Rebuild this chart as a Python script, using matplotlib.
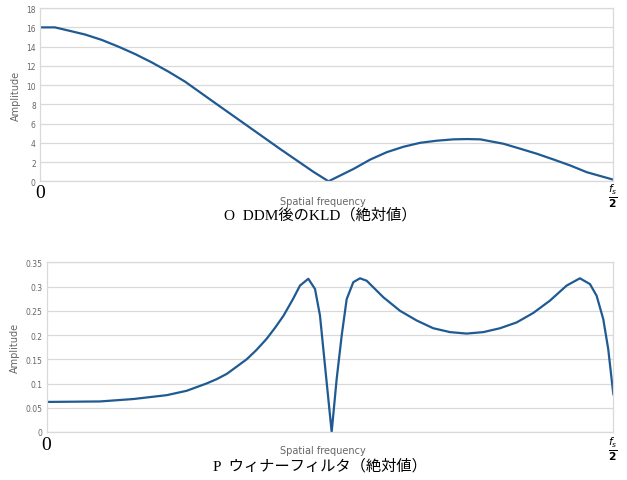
import numpy as np
import matplotlib.pyplot as plt

plt.rcParams['font.family'] = ['DejaVu Sans', 'Noto Sans CJK JP']

# top: KLD after DDM (abs value)
kld_x = [0.0, 0.026, 0.049, 0.0785, 0.1076, 0.1367, 0.1658, 0.1949, 0.224, 0.253,
         0.3025, 0.3607, 0.4188, 0.477, 0.5032, 0.547, 0.576, 0.605, 0.634, 0.663,
         0.692, 0.721, 0.745, 0.768, 0.8086, 0.838, 0.8668, 0.896, 0.925, 0.954, 1.0]
kld_y = [16.0, 16.0, 15.68, 15.26, 14.7, 14.0, 13.23, 12.36, 11.4, 10.36,
         8.26, 5.81, 3.36, 0.98, 0.0, 1.29, 2.26, 3.03, 3.59, 4.0,
         4.22, 4.36, 4.39, 4.36, 3.9, 3.38, 2.86, 2.26, 1.64, 0.94, 0.17]

# bottom: Wiener filter (abs value)
wf_x = [0.0, 0.094, 0.153, 0.212, 0.247, 0.282, 0.300, 0.318, 0.353, 0.370, 0.388,
        0.403, 0.418, 0.435, 0.447, 0.4617, 0.4735, 0.4823, 0.4911, 0.5029, 0.5117,
        0.5206, 0.5294, 0.5411, 0.5529, 0.5647, 0.594, 0.6235, 0.6529, 0.6822,
        0.7117, 0.7411, 0.7705, 0.8, 0.8294, 0.8587, 0.8882, 0.9176, 0.941, 0.9588,
        0.9705, 0.9822, 0.991, 1.0]
wf_y = [0.062, 0.063, 0.068, 0.076, 0.085, 0.100, 0.109, 0.120, 0.150, 0.169, 0.192,
        0.215, 0.240, 0.275, 0.302, 0.316, 0.295, 0.240, 0.137, 0.0, 0.109,
        0.199, 0.274, 0.309, 0.317, 0.312, 0.278, 0.250, 0.230, 0.214,
        0.206, 0.203, 0.206, 0.214, 0.226, 0.2455, 0.271, 0.302, 0.317, 0.305,
        0.281, 0.233, 0.171, 0.078]

kld_ticks = np.arange(0, 19, 2)
wf_ticks = [0, 0.05, 0.1, 0.15, 0.2, 0.25, 0.3, 0.35]
wf_ticklabels = ['0', '0.05', '0.1', '0.15', '0.2', '0.25', '0.3', '0.35']

line_col = '#1f5a93'
gray = '#666666'
grid_col = '#d9d9d9'

fig = plt.figure(figsize=(6.27, 4.81), dpi=100)

def style(ax, ticks, labels=None):
    ax.set_xlim(0, 1)
    ax.set_ylim(ticks[0], ticks[-1])
    ax.set_yticks(ticks)
    if labels is not None:
        ax.set_yticklabels(labels)
    ax.set_xticks([])
    ax.tick_params(axis='y', length=0, labelsize=5.5, labelcolor=gray, pad=3)
    ax.grid(axis='y', color=grid_col, lw=0.9)
    ax.set_axisbelow(True)
    for s in ax.spines.values():
        s.set_color(grid_col)
        s.set_linewidth(0.9)
    ax.set_ylabel('Amplitude', fontsize=7, color=gray, labelpad=4)

ax1 = fig.add_axes([0.0638, 0.621, 0.9144, 0.360])
ax1.plot(kld_x, kld_y, color=line_col, lw=1.6)
style(ax1, kld_ticks)

ax2 = fig.add_axes([0.0745, 0.0998, 0.9037, 0.3528])
ax2.plot(wf_x, wf_y, color=line_col, lw=1.6)
style(ax2, wf_ticks, wf_ticklabels)

# x-axis texts
fig.text(40/627, 1-194/481, '0', fontsize=14, ha='center', va='center', family='Liberation Serif')
fig.text(613/627, 1-196/481, r'$\frac{f_s}{\mathbf{2}}$', fontsize=11, ha='center', va='center')
fig.text(323/627, 1-202/481, 'Spatial frequency', fontsize=7, color=gray, ha='center', va='center')
fig.text(320/627, 1-215/481, 'O  DDM後のKLD（絶対値）', fontsize=11, ha='center', va='center',
         family=['Liberation Serif', 'Noto Sans CJK JP'])

fig.text(46/627, 1-446/481, '0', fontsize=14, ha='center', va='center', family='Liberation Serif')
fig.text(613/627, 1-449/481, r'$\frac{f_s}{\mathbf{2}}$', fontsize=11, ha='center', va='center')
fig.text(323/627, 1-451/481, 'Spatial frequency', fontsize=7, color=gray, ha='center', va='center')
fig.text(320/627, 1-466/481, 'P  ウィナーフィルタ（絶対値）', fontsize=11, ha='center', va='center',
         family=['Liberation Serif', 'Noto Sans CJK JP'])

fig.savefig('out.png', dpi=100)
